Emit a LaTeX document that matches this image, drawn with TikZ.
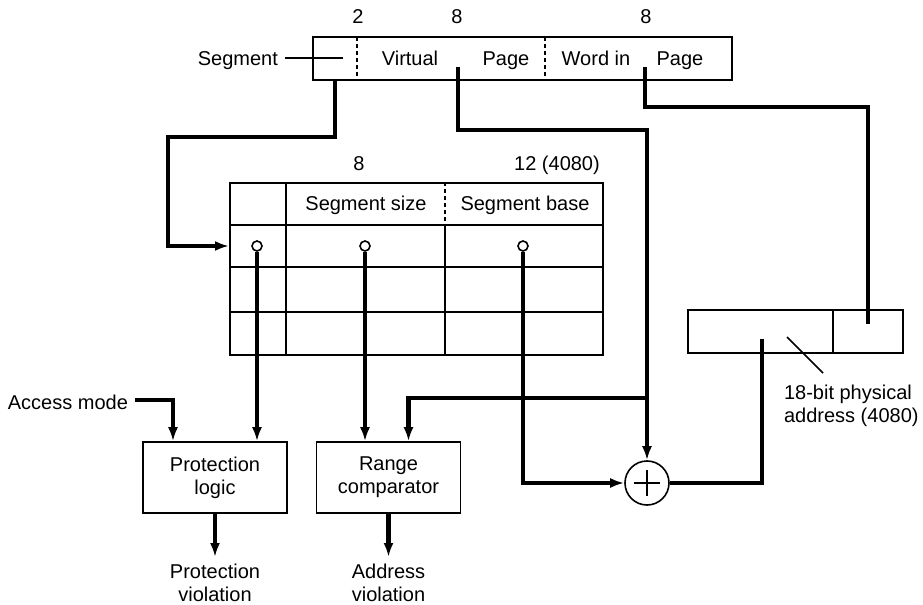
\documentclass[tikz,border=0pt]{standalone}
\usepackage{fontspec}
\setmainfont{Liberation Sans}
\usetikzlibrary{arrows.meta,positioning,calc}

\begin{document}
\begin{tikzpicture}[x=0.5pt, y=-0.5pt, node distance=0pt, every node/.style={font=\fontsize{10}{11.5}\selectfont}, frame/.style={line width=0.8pt}, field/.style={minimum height=21.5pt, inner sep=0pt, outer sep=0pt}, lbl/.style={anchor=base}, block/.style={draw, frame, minimum width=72pt, minimum height=35.5pt, align=center, inner sep=0pt}, tap/.style={circle, draw, frame, fill=white, inner sep=0pt, minimum size=5pt}, bus/.style={line width=2.1pt}, arrow/.style={bus, -{Latex[length=7pt,width=5pt]}}, divider/.style={frame, dash pattern=on 2pt off 1.5pt}]
\useasboundingbox (0,0) rectangle (923,605);
% virtual address register
\node[field, minimum width=22pt, anchor=north west] (segf) at (313,37) {};
\node[field, minimum width=94pt, right=of segf] (vpf) {};
\node[field, minimum width=93.5pt, right=of vpf] (wordf) {};
\draw[frame] (segf.north west) rectangle (wordf.south east);
\draw[divider] (segf.north east) -- (segf.south east);
\draw[divider] (vpf.north east) -- (vpf.south east);
\node[lbl] (vlbl) at (410,65) {Virtual};
\node[lbl] (vpage) at (506,65) {Page};
\node[lbl] (wlbl) at (596,65) {Word in};
\node[lbl] (wpage) at (680,65) {Page};
\node[lbl] (bits1) at (358,24) {2};
\node[lbl] (bits2) at (457,24) {8};
\node[lbl] (bits3) at (646,24) {8};
\node[anchor=base east] (seglbl) at (285,65) {Segment};
\coordinate (segend) at (343,58);
\draw[frame] (seglbl.east |- segend) -- (segend);
\coordinate (vptap) at (458,67);
\coordinate (wordtap) at (645,67);
% segment table
\node[draw, frame, minimum width=186.5pt, minimum height=86pt, inner sep=0pt, anchor=north west] (tbl) at (229,182) {};
\draw[frame] (286,182) -- (286,354);
\draw[divider] (445,182) -- (445,225);
\draw[frame] (445,225) -- (445,354);
\foreach \y in {225,267,312}{\draw[frame] (229,\y) -- (602,\y);}
\node[lbl] (sizelbl) at (366,210) {Segment size};
\node[lbl] (baselbl) at (525,210) {Segment base};
\node[lbl] (bits4) at (359,170) {8};
\node[lbl] (bits5) at (557,170) {12 (4080)};
\node[tap] (pt1) at (257,246) {};
\node[tap] (pt2) at (365,246) {};
\node[tap] (pt3) at (523,246) {};
\coordinate (row1w) at (tbl.west |- pt1);
% logic blocks
\node[block] (prot) at (215,477.5) {Protection\\logic};
\node[block] (range) at (388.5,477.5) {Range\\comparator};
\node[anchor=base east] (acc) at (135,409) {Access mode};
\node[anchor=north, align=center] (pviol) at (215,557) {Protection\\violation};
\node[anchor=north, align=center] (aviol) at (388.5,557) {Address\\violation};
% adder and physical address
\node[circle, draw, frame, minimum size=22pt, inner sep=0pt] (adder) at (647,483) {};
\draw[frame] ($(adder.center)+(-13,0)$) -- ($(adder.center)+(13,0)$);
\draw[frame] ($(adder.center)+(0,-13)$) -- ($(adder.center)+(0,13)$);
\node[field, draw, frame, minimum width=72.5pt, anchor=north west] (pbase) at (688,310) {};
\node[field, draw, frame, minimum width=35pt, right=of pbase] (poff) {};
\coordinate (offend) at (868,324);
\coordinate (baseend) at (762,339);
\node[anchor=north west, align=left] (physlbl) at (777,378) {18-bit physical\\address (4080)};
\coordinate (ptrA) at (787,337);
\coordinate (ptrB) at (823,373);
\draw[frame] (ptrA) -- (ptrB);
% buses
\draw[arrow] (segf.south) -- ++(0,57) -- ++(-167,0) |- (row1w);
\draw[arrow] (vptap) -- ++(0,63) -| (adder.north);
\coordinate (split) at (adder.north |- 0,398);
\draw[arrow] (split) -| ([xshift=10pt]range.north);
\draw[bus] (wordtap) -- ++(0,40) -| (offend);
\draw[arrow] (pt1.south) -- (pt1.south |- prot.north);
\draw[arrow] (pt2.south) -- (pt2.south |- range.north);
\draw[arrow] (pt3.south) |- (adder.west);
\draw[bus] (adder.east) -| (baseend);
\draw[arrow] (acc.east |- 0,400) -| ([xshift=-21pt]prot.north);
\draw[arrow] (prot.south) -- (pviol.north);
\draw[arrow] (range.south) -- (aviol.north);
\end{tikzpicture}
\end{document}
